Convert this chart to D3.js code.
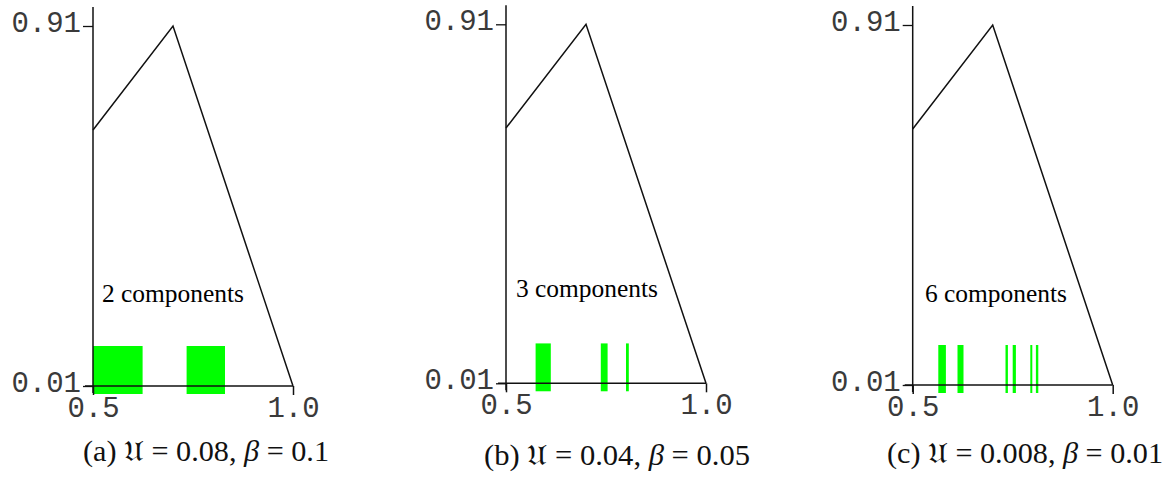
<!DOCTYPE html>
<html><head><meta charset="utf-8">
<script src="https://cdn.jsdelivr.net/npm/d3@7"></script>
<style>body{margin:0;background:#fff} svg{display:block}</style>
</head><body>
<svg id="chart" width="1170" height="477"></svg>
<script>
// ---- data ----
const panelIds = ["(a)", "(b)", "(c)"];
const uValues = ["0.08", "0.04", "0.008"];
const betaValues = ["0.1", "0.05", "0.01"];
const componentCounts = [2, 3, 6];
const curveX = [0.5, 0.7, 1.0];
const curveY = [0.65, 0.91, 0.01];
const xTicks = [0.5, 1.0];
const xTickLabels = ["0.5", "1.0"];
const yTicks = [0.01, 0.91];
const yTickLabels = ["0.01", "0.91"];
const barsA = [[0.5, 0.624], [0.734, 0.83]];
const barsB = [[0.574, 0.612], [0.737, 0.754], [0.8, 0.807]];
const barsC = [[0.564, 0.583], [0.612, 0.627], [0.732, 0.738], [0.75, 0.758], [0.794, 0.799], [0.808, 0.814]];
const barLow = -0.01, barHigh = 0.11;

// ---- layout ----
const layout = [
  {ax: 93,    top: 26,   bot: 386,   compX: 102, compY: 302, capX: 83,  capW: 246, capY: 461},
  {ax: 506,   top: 24.3, bot: 383.3, compX: 516, compY: 297, capX: 484, capW: 266, capY: 465},
  {ax: 912.7, top: 25,   bot: 385,   compX: 925, compY: 302, capX: 887, capW: 276, capY: 463}
];
const allBars = [barsA, barsB, barsC];
const svg = d3.select("#chart");
const ink = "#111";

layout.forEach((L, i) => {
  const x = d3.scaleLinear().domain([0.5, 1.0]).range([L.ax, L.ax + 200]);
  const y = d3.scaleLinear().domain([0.01, 0.91]).range([L.bot, L.top]);
  const g = svg.append("g");

  // bars
  g.selectAll("rect.bar").data(allBars[i]).enter().append("rect")
    .attr("x", d => x(d[0]))
    .attr("width", d => x(d[1]) - x(d[0]))
    .attr("y", y(barHigh))
    .attr("height", y(barLow) - y(barHigh))
    .attr("fill", "#00ff00");

  // curve
  const pts = curveX.map((v, k) => [v, curveY[k]]);
  g.append("path")
    .attr("d", d3.line().x(d => x(d[0])).y(d => y(d[1]))(pts))
    .attr("fill", "none").attr("stroke", ink).attr("stroke-width", 1.5);

  // axis lines
  g.append("line").attr("x1", L.ax).attr("x2", L.ax)
    .attr("y1", L.top - 19).attr("y2", L.bot + 7)
    .attr("stroke", ink).attr("stroke-width", 1.5);
  g.append("line").attr("x1", L.ax - 8).attr("x2", x(1.0))
    .attr("y1", L.bot).attr("y2", L.bot)
    .attr("stroke", ink).attr("stroke-width", 1.5);

  // y axis ticks
  const ya = g.append("g").attr("transform", `translate(${L.ax},0)`)
    .call(d3.axisLeft(y).tickValues(yTicks).tickFormat((d, k) => yTickLabels[k]).tickSize(10).tickSizeOuter(0));
  ya.select(".domain").remove();
  ya.selectAll(".tick line").attr("stroke", ink).attr("stroke-width", 1.3);
  ya.selectAll(".tick text").attr("x", -12).attr("dy", 5)
    .attr("fill", "#3a3a3a").style("font-family", "'Liberation Mono', monospace").style("font-size", "29px");

  // x axis ticks
  const xa = g.append("g").attr("transform", `translate(0,${L.bot})`)
    .call(d3.axisBottom(x).tickValues(xTicks).tickFormat((d, k) => xTickLabels[k]).tickSize(9).tickSizeOuter(0));
  xa.select(".domain").remove();
  xa.selectAll(".tick line").attr("stroke", ink).attr("stroke-width", 1.5);
  xa.selectAll(".tick text").attr("y", 31).attr("dy", 0)
    .attr("fill", "#3a3a3a").style("font-family", "'Liberation Mono', monospace").style("font-size", "29px");

  // components label
  g.append("text").attr("x", L.compX).attr("y", L.compY)
    .attr("textLength", 142).attr("lengthAdjust", "spacingAndGlyphs")
    .style("font-family", "'Liberation Serif', serif").style("font-size", "25px").attr("fill", "#000")
    .text(componentCounts[i] + " components");

  // caption
  const cap = g.append("text").attr("x", L.capX).attr("y", L.capY)
    .attr("textLength", L.capW).attr("lengthAdjust", "spacingAndGlyphs")
    .style("font-family", "'Liberation Serif', 'DejaVu Serif', serif").style("font-size", "29px").attr("fill", "#111");
  cap.append("tspan").text(panelIds[i] + " ");
  cap.append("tspan").text("\u{1D518}");
  cap.append("tspan").text(" = " + uValues[i] + ",  ");
  cap.append("tspan").style("font-style", "italic").text("\u03B2");
  cap.append("tspan").text(" = " + betaValues[i]);
});
</script>
</body></html>
